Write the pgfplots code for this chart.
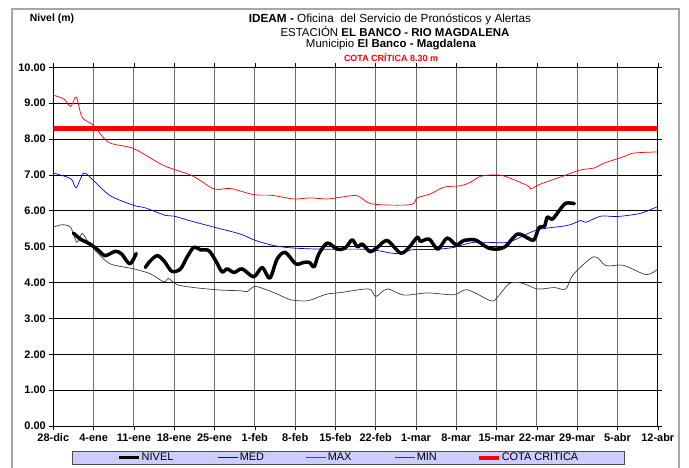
\documentclass[border=0pt]{standalone}
\usepackage{fontspec}
\setmainfont{Liberation Sans}
\usepackage{pgfplots}
\pgfplotsset{compat=1.18}
\definecolor{legfill}{RGB}{204,204,255}
\definecolor{mingray}{RGB}{60,60,60}
\definecolor{vgrid}{RGB}{110,110,110}
\begin{document}
\begin{tikzpicture}[x=1bp,y=1bp]
\useasboundingbox (0,0) rectangle (689,-468);
\draw[gray!70, line width=1.5bp] (12,-9) rectangle (679,-480);
\node[font=\fontsize{10.5}{12}\selectfont\bfseries] at (52,-19) {Nivel (m)};
\node[font=\fontsize{11.8}{13}\selectfont] at (390,-19) {\textbf{IDEAM -} Oficina\ \ del Servicio de Pronósticos y Alertas};
\node[font=\fontsize{11.5}{13}\selectfont] at (395,-32) {ESTACIÓN \textbf{EL BANCO - RIO MAGDALENA}};
\node[font=\fontsize{11.5}{13}\selectfont] at (391,-45) {Municipio \textbf{El Banco - Magdalena}};
\node[font=\fontsize{9}{10}\selectfont\bfseries, text=red] at (391,-57.5) {COTA CRÍTICA 8.30 m};
\begin{axis}[
  at={(53.3bp,-426bp)}, anchor=south west,
  scale only axis, width=604.5bp, height=358.7bp,
  xmin=0, xmax=105, ymin=0, ymax=10,
  xtick={0,7,...,105},
  xticklabels={28-dic,4-ene,11-ene,18-ene,25-ene,1-feb,8-feb,15-feb,22-feb,1-mar,8-mar,15-mar,22-mar,29-mar,5-abr,12-abr},
  ytick={0,1,...,10},
  yticklabel style={/pgf/number format/.cd, fixed, fixed zerofill, precision=2, assume math mode=true},
  ticklabel style={font=\fontsize{11}{12}\selectfont\bfseries},
  xticklabel style={/pgf/number format/assume math mode=true},
  tick align=outside, major tick length=4bp,
  tick style={black, line width=0.6bp},
  xmajorgrids, ymajorgrids,
  x grid style={vgrid, line width=0.9bp},
  y grid style={black, line width=0.8bp},
  axis line style={black, line width=0.8bp},
  legend style={at={(0.4875,-0.0878)}, anchor=center, draw=gray!60!black, fill=legfill,
    font=\fontsize{11}{12}\selectfont, inner xsep=45bp, inner ysep=1bp,
    nodes={inner sep=1bp}},
  legend columns=5, legend cell align=left,
]
\addplot[blue, line width=0.7bp, smooth, forget plot] coordinates {
(0,7.05) (2.4,6.94) (3.3,6.85) (4,6.64) (5.3,7.05) (7,6.84) (9.9,6.42) (14,6.15) (16,6.08) (19.5,5.87) (21,5.85) (23.8,5.72) (28.5,5.52) (32.5,5.35) (35,5.18) (38.3,5.03) (41.8,4.96) (47,4.93) (53.4,4.93) (56,4.9) (59.2,4.81) (61,4.85) (62.6,4.92) (66,4.92) (69.6,4.98) (73,5.12) (78.3,5.11) (80,5.18) (84.1,5.47) (89.3,5.59) (91.6,5.73) (92.5,5.68) (95.1,5.85) (98,5.84) (102,5.93) (105,6.12)};
\addplot[red, line width=0.7bp, smooth, forget plot] coordinates {
(0,9.22) (1.8,9.12) (3,8.91) (4,9.17) (5,8.61) (7,8.38) (9.6,7.91) (14,7.73) (19.2,7.26) (24.1,6.98) (27.9,6.61) (30.8,6.62) (34.8,6.45) (38,6.43) (41.8,6.33) (44.5,6.36) (47.6,6.33) (50,6.38) (52.8,6.42) (55.4,6.19) (62,6.17) (63.2,6.36) (65.5,6.47) (67.9,6.66) (70.8,6.70) (72.5,6.80) (74.2,6.96) (76.5,7.00) (78.5,6.96) (82.4,6.70) (82.9,6.61) (84.7,6.75) (88.1,6.94) (91.6,7.14) (93.9,7.19) (95.7,7.33) (99.1,7.51) (100.9,7.61) (105,7.64)};
\addplot[mingray, line width=0.7bp, smooth, forget plot] coordinates {
(0,5.54) (1.5,5.61) (3,5.54) (4.1,5.12) (5,5.37) (6.1,5.12) (7.6,4.84) (9.9,4.52) (14,4.38) (16.9,4.24) (19.2,4.02) (20,4.11) (21.5,3.94) (24.4,3.86) (29,3.79) (32.5,3.77) (33.7,3.75) (35.1,3.89) (38.3,3.72) (41.2,3.52) (44.1,3.49) (45.8,3.58) (47.6,3.68) (49.9,3.72) (54.8,3.82) (56,3.61) (58,3.82) (60.9,3.65) (65,3.71) (69.6,3.66) (71.9,3.80) (76,3.49) (77.1,3.58) (79.2,3.97) (81.5,3.98) (84.1,3.82) (87,3.86) (89,3.82) (90.3,4.22) (93.9,4.72) (96,4.47) (99,4.48) (103,4.22) (105,4.38)};
\addplot[red, line width=4.5bp, forget plot] coordinates {(0,8.3) (105,8.3)};
\addplot[black, line width=3.5bp, smooth, line join=round, line cap=round, forget plot] coordinates {
(3.5,5.38) (4.7,5.21) (6.4,5.07) (7.9,4.89) (9,4.75) (10.8,4.87) (11.9,4.79) (13.3,4.52) (14.4,4.81)};
\addplot[black, line width=3.5bp, smooth, line join=round, line cap=round, forget plot] coordinates {
(16,4.42) (16.6,4.56) (18,4.75) (19.2,4.61) (20.6,4.31) (22.1,4.38) (23.2,4.70) (24.4,4.98) (25.6,4.91) (27,4.89) (28.2,4.61) (29.3,4.30) (30.2,4.38) (31.4,4.28) (32.8,4.38) (34.8,4.16) (36.3,4.42) (37.6,4.12) (38.9,4.66) (40.3,4.84) (42.1,4.52) (43.5,4.56) (44.5,4.56) (45.3,4.44) (46.1,4.79) (47.6,5.10) (49.3,4.93) (50.7,4.96) (51.9,5.19) (52.8,5.00) (53.7,5.07) (55,4.86) (56.3,4.98) (58,5.17) (60.3,4.82) (61.8,4.98) (63.2,5.26) (63.8,5.15) (65.3,5.21) (66.8,4.93) (68.4,5.24) (70,5.05) (71.3,5.17) (73.2,5.19) (74.5,5.07) (75.6,4.96) (77,4.93) (78.5,5.0) (80.6,5.35) (82.4,5.24) (83.5,5.19) (84.4,5.54) (85.3,5.56) (85.8,5.82) (86.7,5.77) (87.9,6.01) (89,6.21) (90.5,6.20)};
\addlegendimage{legend image code/.code={\draw[black, line width=3.5bp] (0bp,0bp) -- (20bp,0bp);}}
\addlegendentry{\makebox[75bp][l]{NIVEL}}
\addlegendimage{legend image code/.code={\draw[blue, line width=1bp] (0bp,0bp) -- (20bp,0bp);}}
\addlegendentry{\makebox[65bp][l]{MED}}
\addlegendimage{legend image code/.code={\draw[red, line width=1bp] (0bp,0bp) -- (20bp,0bp);}}
\addlegendentry{\makebox[66bp][l]{MAX}}
\addlegendimage{legend image code/.code={\draw[mingray, line width=1bp] (0bp,0bp) -- (20bp,0bp);}}
\addlegendentry{\makebox[59bp][l]{MIN}}
\addlegendimage{legend image code/.code={\draw[red, line width=4bp] (0bp,0bp) -- (20bp,0bp);}}
\addlegendentry{\makebox[76bp][l]{COTA CRITICA}}
\end{axis}
\end{tikzpicture}
\end{document}
